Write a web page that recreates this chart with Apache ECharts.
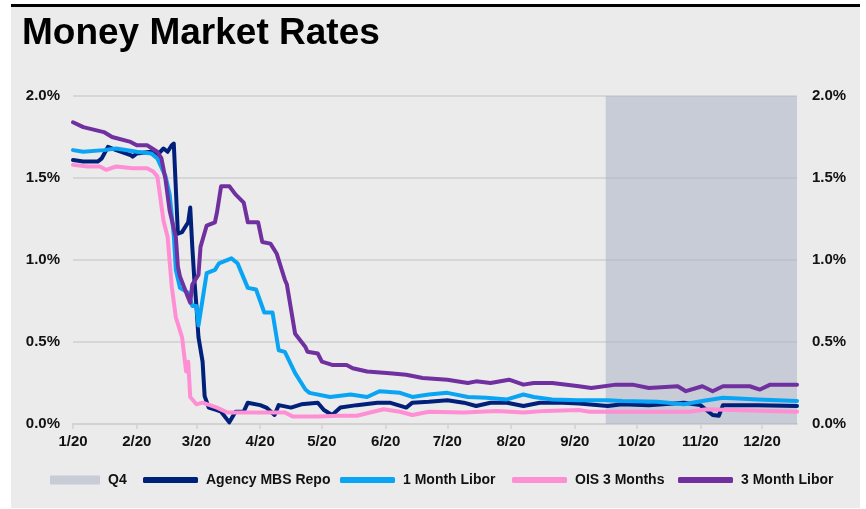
<!DOCTYPE html>
<html>
<head>
<meta charset="utf-8">
<title>Money Market Rates</title>
<script src="https://cdn.jsdelivr.net/npm/echarts@6/dist/echarts.min.js"></script>
<style>
  html, body { margin: 0; padding: 0; background: #ffffff; }
  #frame { position: relative; width: 866px; height: 509px; overflow: hidden; }
  #panel { position: absolute; left: 11px; top: 7px; width: 849px; height: 501px; background: #ebebeb; }
  #rule { position: absolute; left: 11px; top: 4px; width: 849px; height: 3px; background: #000000; }
  #chart { position: absolute; left: 0; top: 0; width: 866px; height: 509px; }
</style>
</head>
<body>
<div id="frame">
  <div id="panel"></div>
  <div id="rule"></div>
  <div id="chart"></div>
</div>
<script>
// Month starts and their tick labels on the date axis
const monthStarts = ['2020-01-01', '2020-02-01', '2020-03-01', '2020-04-01', '2020-05-01', '2020-06-01',
                     '2020-07-01', '2020-08-01', '2020-09-01', '2020-10-01', '2020-11-01', '2020-12-01'];
const tickLabels = ['1/20', '2/20', '3/20', '4/20', '5/20', '6/20', '7/20', '8/20', '9/20', '10/20', '11/20', '12/20'];
const axisStart = '2020-01-01';
const axisEnd = '2020-12-18';
// Shaded quarter-end window
const q4Window = ['2020-09-16', '2020-12-18'];

// Rates in percent, [date, rate]
const agencyMbsRepo = [
  ['2020-01-01', 1.61], ['2020-01-06', 1.60], ['2020-01-13', 1.60], ['2020-01-15', 1.62], ['2020-01-18', 1.69],
  ['2020-01-22', 1.67], ['2020-01-29', 1.64], ['2020-01-30', 1.63], ['2020-02-01', 1.65], ['2020-02-08', 1.66],
  ['2020-02-11', 1.64], ['2020-02-14', 1.68], ['2020-02-16', 1.66], ['2020-02-18', 1.70], ['2020-02-19', 1.71],
  ['2020-02-21', 1.16], ['2020-02-23', 1.17], ['2020-02-26', 1.23], ['2020-02-27', 1.32], ['2020-02-28', 1.08],
  ['2020-02-29', 0.88], ['2020-03-01', 0.72], ['2020-03-02', 0.53], ['2020-03-04', 0.38], ['2020-03-05', 0.17],
  ['2020-03-07', 0.10], ['2020-03-11', 0.085], ['2020-03-13', 0.075], ['2020-03-17', 0.01], ['2020-03-20', 0.075],
  ['2020-03-24', 0.075], ['2020-03-26', 0.13], ['2020-04-01', 0.115], ['2020-04-04', 0.10], ['2020-04-08', 0.055],
  ['2020-04-10', 0.115], ['2020-04-16', 0.10], ['2020-04-21', 0.12], ['2020-04-29', 0.13], ['2020-05-02', 0.085],
  ['2020-05-06', 0.055], ['2020-05-10', 0.10], ['2020-05-18', 0.115], ['2020-05-28', 0.13], ['2020-06-03', 0.13],
  ['2020-06-11', 0.10], ['2020-06-14', 0.13], ['2020-06-22', 0.135], ['2020-07-01', 0.145], ['2020-07-09', 0.13],
  ['2020-07-15', 0.11], ['2020-07-22', 0.13], ['2020-07-30', 0.13], ['2020-08-07', 0.11], ['2020-08-15', 0.13],
  ['2020-08-26', 0.13], ['2020-09-03', 0.125], ['2020-09-17', 0.11], ['2020-09-24', 0.12], ['2020-10-07', 0.115],
  ['2020-10-24', 0.13], ['2020-11-01', 0.115], ['2020-11-07', 0.055], ['2020-11-10', 0.05], ['2020-11-12', 0.115],
  ['2020-11-29', 0.115], ['2020-12-18', 0.11]
];

const oneMonthLibor = [
  ['2020-01-01', 1.67], ['2020-01-06', 1.66], ['2020-01-16', 1.67], ['2020-01-22', 1.68], ['2020-02-01', 1.66],
  ['2020-02-08', 1.65], ['2020-02-11', 1.62], ['2020-02-15', 1.51], ['2020-02-17', 1.40], ['2020-02-19', 1.15],
  ['2020-02-20', 0.94], ['2020-02-22', 0.83], ['2020-02-26', 0.80], ['2020-02-28', 0.72], ['2020-03-01', 0.72],
  ['2020-03-02', 0.60], ['2020-03-04', 0.76], ['2020-03-06', 0.92], ['2020-03-10', 0.94], ['2020-03-12', 0.98],
  ['2020-03-18', 1.01], ['2020-03-21', 0.98], ['2020-03-23', 0.92], ['2020-03-26', 0.83], ['2020-03-30', 0.82],
  ['2020-04-03', 0.68], ['2020-04-07', 0.68], ['2020-04-10', 0.45], ['2020-04-13', 0.44], ['2020-04-18', 0.31],
  ['2020-04-23', 0.21], ['2020-04-25', 0.19], ['2020-05-05', 0.165], ['2020-05-15', 0.18], ['2020-05-23', 0.165],
  ['2020-05-29', 0.20], ['2020-06-08', 0.19], ['2020-06-14', 0.165], ['2020-06-22', 0.18], ['2020-07-01', 0.19],
  ['2020-07-11', 0.165], ['2020-07-20', 0.16], ['2020-07-30', 0.15], ['2020-08-07', 0.18], ['2020-08-12', 0.165],
  ['2020-08-21', 0.15], ['2020-09-03', 0.145], ['2020-09-17', 0.145], ['2020-09-24', 0.14], ['2020-10-11', 0.135],
  ['2020-10-24', 0.12], ['2020-11-02', 0.14], ['2020-11-12', 0.16], ['2020-11-29', 0.15], ['2020-12-18', 0.14]
];

const ois3Months = [
  ['2020-01-01', 1.58], ['2020-01-08', 1.57], ['2020-01-14', 1.57], ['2020-01-17', 1.55], ['2020-01-22', 1.57],
  ['2020-01-30', 1.56], ['2020-02-06', 1.56], ['2020-02-09', 1.54], ['2020-02-11', 1.51], ['2020-02-14', 1.24],
  ['2020-02-16', 1.14], ['2020-02-18', 0.84], ['2020-02-20', 0.65], ['2020-02-23', 0.53], ['2020-02-25', 0.32],
  ['2020-02-26', 0.38], ['2020-02-27', 0.165], ['2020-03-01', 0.12], ['2020-03-04', 0.13], ['2020-03-11', 0.10],
  ['2020-03-16', 0.07], ['2020-03-24', 0.07], ['2020-04-01', 0.07], ['2020-04-13', 0.07], ['2020-04-17', 0.045],
  ['2020-04-29', 0.045], ['2020-05-09', 0.05], ['2020-05-18', 0.05], ['2020-05-31', 0.09], ['2020-06-08', 0.075],
  ['2020-06-14', 0.055], ['2020-06-22', 0.075], ['2020-07-09', 0.07], ['2020-07-25', 0.08], ['2020-08-07', 0.07],
  ['2020-08-18', 0.08], ['2020-09-03', 0.085], ['2020-09-08', 0.075], ['2020-10-27', 0.075], ['2020-11-04', 0.09],
  ['2020-12-18', 0.075]
];

const threeMonthLibor = [
  ['2020-01-01', 1.84], ['2020-01-06', 1.81], ['2020-01-16', 1.78], ['2020-01-20', 1.75], ['2020-01-29', 1.72],
  ['2020-02-01', 1.70], ['2020-02-06', 1.70], ['2020-02-11', 1.66], ['2020-02-13', 1.62], ['2020-02-15', 1.49],
  ['2020-02-17', 1.30], ['2020-02-20', 1.14], ['2020-02-21', 0.96], ['2020-02-22', 0.90], ['2020-02-26', 0.77],
  ['2020-02-27', 0.74], ['2020-02-28', 0.85], ['2020-03-02', 0.91], ['2020-03-03', 1.08], ['2020-03-06', 1.21],
  ['2020-03-10', 1.23], ['2020-03-11', 1.29], ['2020-03-13', 1.45], ['2020-03-17', 1.45], ['2020-03-20', 1.40],
  ['2020-03-24', 1.35], ['2020-03-26', 1.23], ['2020-03-31', 1.23], ['2020-04-02', 1.11], ['2020-04-06', 1.10],
  ['2020-04-09', 1.04], ['2020-04-11', 0.96], ['2020-04-13', 0.88], ['2020-04-14', 0.85], ['2020-04-18', 0.55],
  ['2020-04-23', 0.47], ['2020-04-24', 0.44], ['2020-04-29', 0.43], ['2020-05-01', 0.38], ['2020-05-06', 0.36],
  ['2020-05-13', 0.36], ['2020-05-16', 0.34], ['2020-05-23', 0.32], ['2020-06-03', 0.31], ['2020-06-11', 0.30],
  ['2020-06-19', 0.28], ['2020-07-01', 0.27], ['2020-07-11', 0.25], ['2020-07-15', 0.26], ['2020-07-22', 0.25],
  ['2020-07-31', 0.27], ['2020-08-07', 0.24], ['2020-08-12', 0.25], ['2020-08-21', 0.25], ['2020-09-03', 0.23],
  ['2020-09-09', 0.22], ['2020-09-21', 0.24], ['2020-09-29', 0.24], ['2020-10-07', 0.22], ['2020-10-21', 0.23],
  ['2020-10-25', 0.20], ['2020-11-02', 0.23], ['2020-11-07', 0.20], ['2020-11-12', 0.23], ['2020-11-25', 0.23],
  ['2020-11-30', 0.21], ['2020-12-05', 0.24], ['2020-12-18', 0.24]
];

const seriesNames = ['Q4', 'Agency MBS Repo', '1 Month Libor', 'OIS 3 Months', '3 Month Libor'];
const seriesColors = ['#c7ccd7', '#00207a', '#0aa4f5', '#ff8fd4', '#7030a0'];

// Dates are placed on a day-count axis measured from the first day of the year
const DAY_MS = 86400000;
function dayOfYear(iso) {
  const [y, m, d] = iso.split('-').map(Number);
  return (Date.UTC(y, m - 1, d) - Date.UTC(2020, 0, 1)) / DAY_MS;
}
const monthStartDays = monthStarts.map(dayOfYear);
const toPoints = rows => rows.map(([date, rate]) => [dayOfYear(date), rate]);

const labelFont = 'Liberation Sans, Arial, sans-serif';

function rateLine(idx, rows) {
  return {
    name: seriesNames[idx],
    type: 'line',
    data: toPoints(rows),
    showSymbol: false,
    symbol: 'none',
    smooth: false,
    z: 2 + idx,
    lineStyle: { color: seriesColors[idx], width: 4, join: 'round', cap: 'round' },
    itemStyle: { color: seriesColors[idx] },
    emphasis: { disabled: true }
  };
}

// One legend block per entry, laid out in a single row under the axis
const legendLefts = [50, 143, 340, 512, 678];
const legends = seriesNames.map((name, i) => ({
  data: [{ name: name, icon: i === 0 ? 'rect' : 'roundRect' }],
  left: legendLefts[i],
  top: 473,
  padding: 0,
  itemWidth: i === 0 ? 50 : 55,
  itemHeight: i === 0 ? 9 : 6,
  selectedMode: false,
  textStyle: { fontFamily: labelFont, fontSize: 14, fontWeight: 'bold', color: '#111111', padding: [0, 0, 0, 3] }
}));

const yTickFormatter = v => v.toFixed(1) + '%';

const chart = echarts.init(document.getElementById('chart'), null, { renderer: 'canvas' });
chart.setOption({
  backgroundColor: 'transparent',
  animation: false,
  title: {
    text: 'Money Market Rates',
    left: 17,
    top: 10,
    textStyle: { fontFamily: labelFont, fontSize: 37, fontWeight: 'bold', color: '#000000' }
  },
  legend: legends,
  grid: { left: 73, right: 69, top: 96, bottom: 85, containLabel: false, outerBoundsMode: 'none' },
  xAxis: {
    type: 'value',
    min: dayOfYear(axisStart),
    max: dayOfYear(axisEnd),
    splitLine: { show: false },
    axisLine: { show: true, onZero: false, lineStyle: { color: '#d2d2d2', width: 2 } },
    axisTick: { show: true, customValues: monthStartDays, length: 5, lineStyle: { color: '#d2d2d2', width: 1.5 } },
    axisLabel: {
      customValues: monthStartDays,
      margin: 10,
      hideOverlap: false,
      fontFamily: labelFont,
      fontSize: 15,
      fontWeight: 'bold',
      color: '#111111',
      formatter: function (value) {
        const i = monthStartDays.indexOf(Math.round(value));
        return i >= 0 ? tickLabels[i] : '';
      }
    }
  },
  yAxis: [
    {
      type: 'value', position: 'left', min: 0, max: 2, interval: 0.5,
      axisLine: { show: false }, axisTick: { show: false },
      splitLine: { show: true, lineStyle: { color: '#d6d6d6', width: 2 } },
      axisLabel: { margin: 13, fontFamily: labelFont, fontSize: 15, fontWeight: 'bold', color: '#111111', formatter: yTickFormatter }
    },
    {
      type: 'value', position: 'right', min: 0, max: 2, interval: 0.5,
      axisLine: { show: false }, axisTick: { show: false }, splitLine: { show: false },
      axisLabel: { margin: 15, fontFamily: labelFont, fontSize: 15, fontWeight: 'bold', color: '#111111', formatter: yTickFormatter }
    }
  ],
  series: [
    {
      name: seriesNames[0],
      type: 'line',
      data: [],
      z: 1,
      itemStyle: { color: seriesColors[0] },
      lineStyle: { color: seriesColors[0] },
      markArea: {
        silent: true,
        itemStyle: { color: 'rgba(163, 173, 196, 0.5)' },
        data: [[{ xAxis: dayOfYear(q4Window[0]) }, { xAxis: dayOfYear(q4Window[1]) }]]
      }
    },
    rateLine(1, agencyMbsRepo),
    rateLine(2, oneMonthLibor),
    rateLine(3, ois3Months),
    rateLine(4, threeMonthLibor)
  ]
});
</script>
</body>
</html>
